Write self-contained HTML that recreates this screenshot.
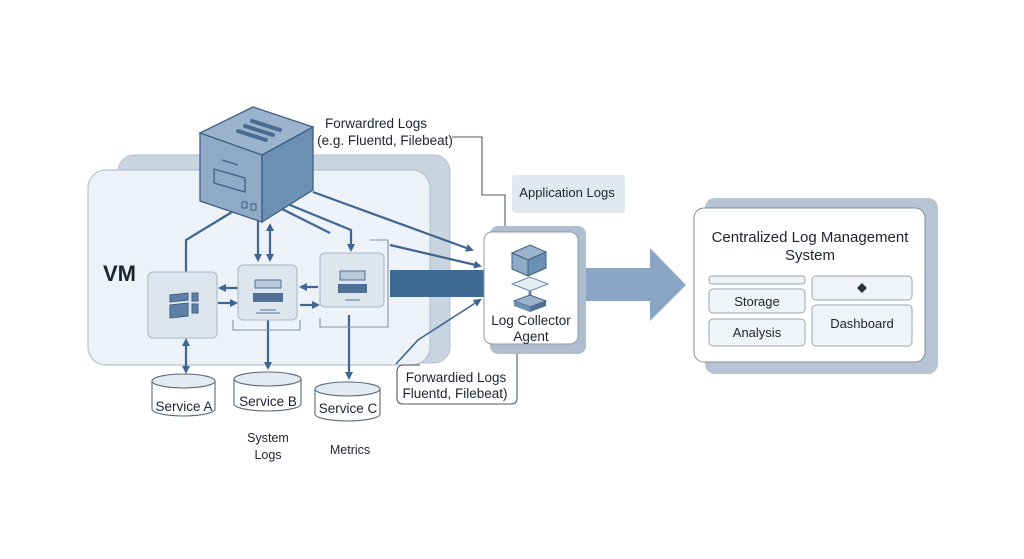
<!DOCTYPE html>
<html><head><meta charset="utf-8"><style>
html,body{margin:0;padding:0;background:#fff;width:1024px;height:559px;overflow:hidden}
svg{display:block}
text{font-family:"Liberation Sans",sans-serif;fill:#1c2430}
</style></head><body>
<svg width="1024" height="559" viewBox="0 0 1024 559" xmlns="http://www.w3.org/2000/svg">
<defs>
<marker id="ah" markerWidth="8" markerHeight="8" refX="6" refY="4" orient="auto" markerUnits="userSpaceOnUse"><path d="M0,0 L8,4 L0,8 Z" fill="#3f6590"/></marker>
<marker id="ahs" markerWidth="8" markerHeight="8" refX="2" refY="4" orient="auto" markerUnits="userSpaceOnUse"><path d="M8,0 L0,4 L8,8 Z" fill="#3f6590"/></marker>
</defs>
<!-- VM panels -->
<rect x="118" y="155" width="332" height="208" rx="16" fill="#c9d4e1" stroke="#b4c1d0"/>
<rect x="88" y="170" width="342" height="195" rx="18" fill="#edf2f8" stroke="#b6c3d2" stroke-width="1.2"/>
<text x="103" y="281" font-size="22" font-weight="bold" fill="#1a1f28">VM</text>

<!-- connector lines from cube -->
<g stroke="#3f6590" stroke-width="2.2" fill="none">
<polyline points="232,212 186,240 186,272"/>
<line x1="258" y1="220" x2="258" y2="260" marker-end="url(#ah)"/>
<line x1="270" y1="225" x2="270" y2="260" marker-end="url(#ah)" marker-start="url(#ahs)"/>
<line x1="280" y1="208" x2="330" y2="233"/>
<polyline points="290,205 351,230 351,250" marker-end="url(#ah)"/>
<line x1="313" y1="192" x2="472" y2="250" marker-end="url(#ah)"/>
<line x1="390" y1="245" x2="480" y2="266" marker-end="url(#ah)"/>
<line x1="238" y1="288" x2="220" y2="288" marker-end="url(#ah)"/>
<line x1="218" y1="303" x2="236" y2="303" marker-end="url(#ah)"/>
<line x1="318" y1="287" x2="301" y2="287" marker-end="url(#ah)"/>
<line x1="300" y1="305" x2="318" y2="305" marker-end="url(#ah)"/>
<line x1="186" y1="340" x2="186" y2="372" marker-end="url(#ah)" marker-start="url(#ahs)"/>
<line x1="268" y1="320" x2="268" y2="368" marker-end="url(#ah)"/>
<line x1="349" y1="315" x2="349" y2="378" marker-end="url(#ah)"/>
<polyline points="396,364 418,340 480,300" marker-end="url(#ah)" stroke-width="1.6"/>
</g>
<!-- thin outline connectors -->
<g stroke="#4a5a6c" stroke-width="1.1" fill="none">
<polyline points="452,137 482,137 482,195 505,195 505,232"/>
<path d="M517,344 L517,398 Q517,404 511,404 L403,404 Q397,404 397,398 L397,372 Q397,365 404,365 L420,365"/>
<path d="M233,320 L233,330 L300,330 L300,320" stroke="#8894a2"/>
<path d="M320,318 L320,327 L388,327 L388,240 L370,240" stroke="#8894a2"/>
</g>

<!-- cube -->
<polygon points="200,133 253,107 313,127 262,155" fill="#9cb3cd" stroke="#3f5f84" stroke-width="1.3"/>
<polygon points="200,133 262,155 262,222 200,201" fill="#90a9c6" stroke="#3f5f84" stroke-width="1.3"/>
<polygon points="262,155 313,127 313,190 262,222" fill="#6e8fb4" stroke="#3f5f84" stroke-width="1.3"/>
<g stroke="#4a6a92" stroke-width="4" stroke-linecap="round"><line x1="252" y1="121" x2="280" y2="130"/><line x1="245" y1="126" x2="273" y2="135"/><line x1="238" y1="131" x2="266" y2="140"/></g>
<line x1="222" y1="160" x2="238" y2="165" stroke="#3f5f84" stroke-width="1.3"/>
<polygon points="214,169 245,178 245,192 214,183" fill="none" stroke="#3f5f84" stroke-width="1.3"/>
<rect x="242" y="202" width="5" height="6" fill="none" stroke="#3f5f84"/><rect x="251" y="204" width="5" height="6" fill="none" stroke="#3f5f84"/>

<!-- service boxes -->
<rect x="148" y="272" width="69" height="66" rx="5" fill="#dde5ef" stroke="#a9b6c6"/>
<g fill="#5f7fa6" stroke="#3f5f84"><polygon points="170,295 188,293 188,300 170,302"/><polygon points="170,305 188,303 188,316 170,318"/><rect x="192" y="293" width="6" height="8"/><rect x="192" y="304" width="6" height="9"/></g>
<rect x="238" y="265" width="59" height="55" rx="5" fill="#dde5ef" stroke="#a9b6c6"/>
<rect x="255" y="280" width="26" height="8" fill="#b8c9dc" stroke="#4f6f96"/><rect x="253" y="293" width="30" height="9" fill="#4f6f96"/>
<line x1="260" y1="310" x2="276" y2="310" stroke="#4f6f96"/><line x1="256" y1="313" x2="280" y2="313" stroke="#4f6f96"/>
<rect x="320" y="253" width="64" height="54" rx="5" fill="#dde5ef" stroke="#a9b6c6"/>
<rect x="340" y="271" width="25" height="9" fill="#b8c9dc" stroke="#4f6f96"/><rect x="338" y="284" width="29" height="9" fill="#4f6f96"/>
<line x1="345" y1="300" x2="360" y2="300" stroke="#4f6f96"/>

<!-- dark bar -->
<rect x="390" y="270" width="96" height="27" fill="#3f6a94"/>

<!-- cylinders -->
<g stroke="#5a6878" stroke-width="1.1" fill="#fff">
<path d="M152,381 L152,409 A31.5,7 0 0 0 215,409 L215,381"/><ellipse cx="183.5" cy="381" rx="31.5" ry="7" fill="#e4eaf1"/>
<path d="M234,379 L234,404 A33.5,7 0 0 0 301,404 L301,379"/><ellipse cx="267.5" cy="379" rx="33.5" ry="7" fill="#e4eaf1"/>
<path d="M315,389 L315,414 A32.5,7 0 0 0 380,414 L380,389"/><ellipse cx="347.5" cy="389" rx="32.5" ry="7" fill="#e4eaf1"/>
</g>
<text x="184" y="411" font-size="13.5" text-anchor="middle">Service A</text>
<text x="268" y="406" font-size="13.5" text-anchor="middle">Service B</text>
<text x="348" y="413" font-size="13.5" text-anchor="middle">Service C</text>
<text x="268" y="442" font-size="12.5" text-anchor="middle">System</text>
<text x="268" y="459" font-size="12.5" text-anchor="middle">Logs</text>
<text x="350" y="454" font-size="12.5" text-anchor="middle">Metrics</text>

<!-- labels -->
<text x="376" y="128" font-size="13.5" text-anchor="middle">Forwardred Logs</text>
<text x="385" y="145" font-size="13.5" text-anchor="middle">(e.g. Fluentd, Filebeat)</text>
<rect x="512" y="175" width="113" height="38" rx="3" fill="#e2e8ef"/>
<text x="567" y="197" font-size="13" text-anchor="middle">Application Logs</text>
<text x="456" y="382" font-size="13.5" text-anchor="middle">Forwardied Logs</text>
<text x="455" y="398" font-size="13.5" text-anchor="middle">Fluentd, Filebeat)</text>

<!-- big arrow -->
<polygon points="585,268 650,268 650,248 686,285 650,321 650,301 585,301" fill="#8aa6c4"/>

<!-- log collector -->
<rect x="490" y="226" width="96" height="128" rx="8" fill="#aebdcf"/>
<rect x="484" y="232" width="94" height="112" rx="8" fill="#fff" stroke="#8b98a8"/>
<polygon points="512,253 530,245 546,252 528,260" fill="#9cb3cd" stroke="#3f5f84"/>
<polygon points="512,253 528,260 528,276 512,269" fill="#90a9c6" stroke="#3f5f84"/>
<polygon points="528,260 546,252 546,268 528,276" fill="#6e8fb4" stroke="#3f5f84"/>
<polygon points="512,284 530,277 548,284 530,291" fill="#e5ebf2" stroke="#6f87a4"/>
<line x1="530" y1="291" x2="530" y2="300" stroke="#6f87a4" stroke-width="3"/>
<polygon points="514,301 530,295 546,301 530,307" fill="#9cb3cd" stroke="#3f5f84"/>
<polygon points="514,301 530,307 530,312 514,306" fill="#6e8fb4"/>
<polygon points="530,307 546,301 546,306 530,312" fill="#4f6f96"/>
<text x="531" y="325" font-size="13.5" text-anchor="middle">Log Collector</text>
<text x="531" y="341" font-size="13.5" text-anchor="middle">Agent</text>

<!-- central system -->
<rect x="705" y="198" width="233" height="176" rx="10" fill="#b6c4d4"/>
<rect x="694" y="208" width="231" height="154" rx="10" fill="#fff" stroke="#7f8c9c"/>
<text x="810" y="242" font-size="15" text-anchor="middle">Centralized Log Management</text>
<text x="810" y="260" font-size="15" text-anchor="middle">System</text>
<g fill="#f0f3f7" stroke="#9aa6b4">
<rect x="709" y="276" width="96" height="8" rx="3"/>
<rect x="709" y="289" width="96" height="24" rx="4"/>
<rect x="709" y="319" width="96" height="27" rx="4"/>
<rect x="812" y="276" width="100" height="24" rx="4"/>
<rect x="812" y="305" width="100" height="41" rx="4"/>
</g>
<polygon points="862,283 867,288 862,293 857,288" fill="#2a3440"/>
<text x="757" y="306" font-size="13" text-anchor="middle">Storage</text>
<text x="757" y="337" font-size="13" text-anchor="middle">Analysis</text>
<text x="862" y="328" font-size="13" text-anchor="middle">Dashboard</text>
</svg>
</body></html>
